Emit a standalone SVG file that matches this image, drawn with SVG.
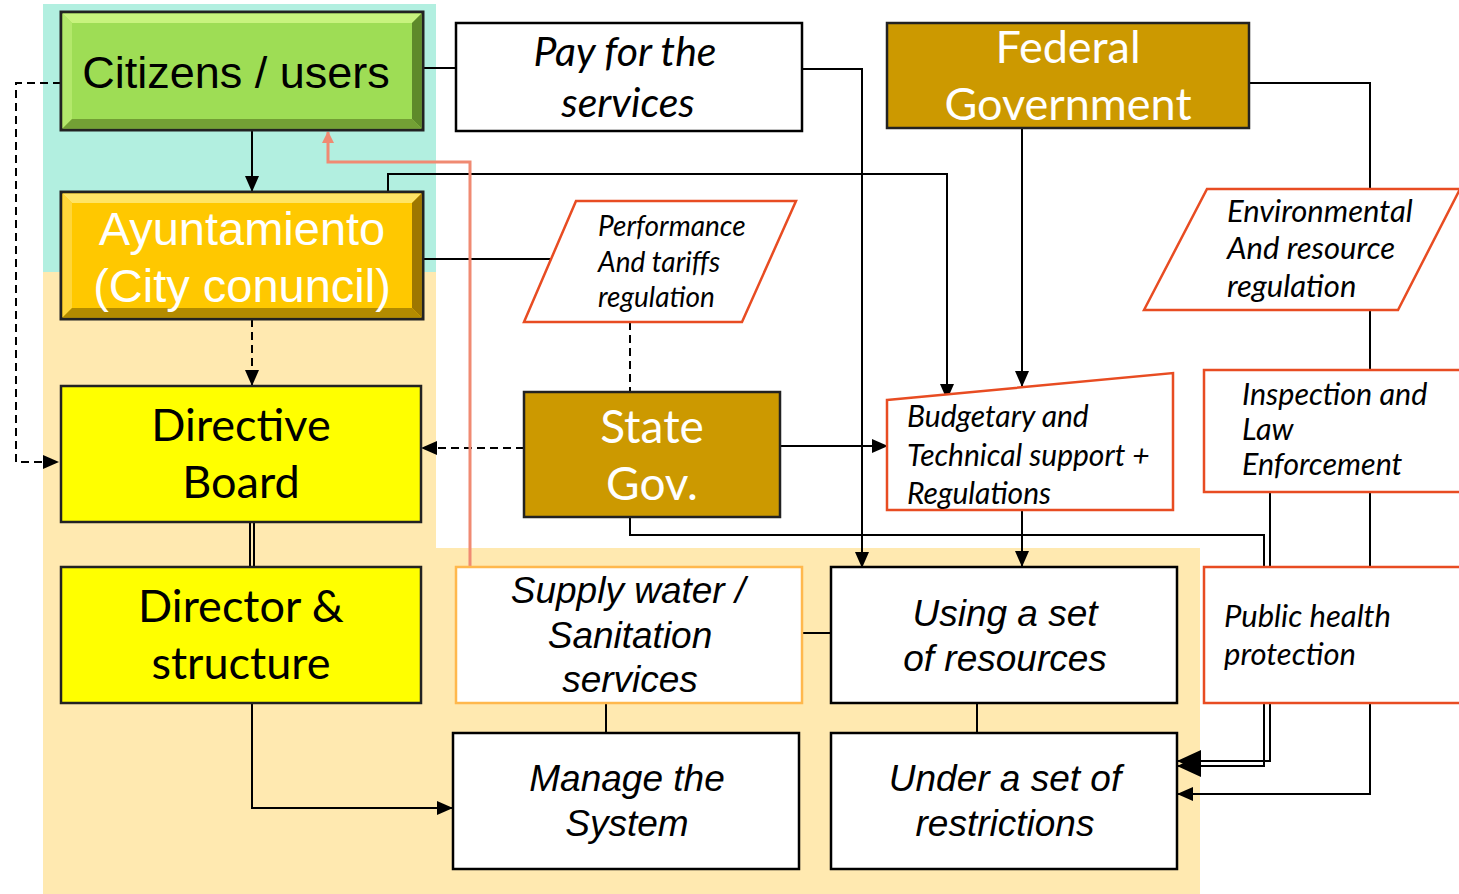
<svg xmlns="http://www.w3.org/2000/svg" width="1459" height="894" viewBox="0 0 1459 894">
<style>
.ln{fill:none;stroke:#000;stroke-width:2}
.ds{fill:none;stroke:#000;stroke-width:2;stroke-dasharray:8 5}
.box{fill:#fff;stroke:#000;stroke-width:2.5}
.red{fill:#fff;stroke:#E84C22;stroke-width:2.5}
.gold{fill:#CC9900;stroke:#222;stroke-width:2.5}
.yel{fill:#FFFF00;stroke:#222;stroke-width:2.5}
.ar{font-family:"Liberation Sans",Arial,sans-serif;text-anchor:middle}
.it{font-family:Lato,"Open Sans",sans-serif;font-style:italic}
.lt{font-family:Lato,"Open Sans",sans-serif;text-anchor:middle}
</style>
<defs>
<marker id="ah" markerUnits="userSpaceOnUse" markerWidth="16" markerHeight="14" refX="15" refY="7" orient="auto"><path d="M0,0 L16,7 L0,14 Z" fill="#000"/></marker>
<marker id="ahb" markerUnits="userSpaceOnUse" markerWidth="24" markerHeight="22" refX="23" refY="11" orient="auto"><path d="M0,0 L24,11 L0,22 Z" fill="#000"/></marker>
<marker id="ahs" markerUnits="userSpaceOnUse" markerWidth="12" markerHeight="12" refX="11" refY="6" orient="auto"><path d="M0,0 L12,6 L0,12 Z" fill="#F08A72"/></marker>
</defs>
<rect width="1459" height="894" fill="#fff"/>
<g id="backgrounds">
<rect x="43" y="4" width="393" height="268" fill="#B2EFE0"/>
<rect x="43" y="272" width="393" height="622" fill="#FFE9B0"/>
<rect x="436" y="548" width="764" height="346" fill="#FFE9B0"/>
</g>
<g id="connectors">
<path class="ln" d="M423,68 H456"/>
<path class="ln" d="M802,69 H862 V567" marker-end="url(#ah)"/>
<path class="ln" d="M252,130 V191" marker-end="url(#ah)"/>
<path class="ln" d="M388,192 V174 H947 V399" marker-end="url(#ah)"/>
<path class="ln" d="M1022,128 V386" marker-end="url(#ah)"/>
<path class="ln" d="M1249,83 H1370 V189"/>
<path class="ln" d="M1370,310 V370"/>
<path class="ln" d="M1370,492 V567"/>
<path class="ln" d="M1370,703 V794 H1178" marker-end="url(#ah)"/>
<path class="ln" d="M418,259 H553"/>
<path class="ds" d="M630,322 V392"/>
<path class="ds" d="M524,448 H422" marker-end="url(#ah)"/>
<path class="ln" d="M780,446 H887" marker-end="url(#ah)"/>
<path class="ln" d="M630,517 V535 H1264 V766 H1178" marker-end="url(#ahb)"/>
<path class="ln" d="M1270,492 V761 H1178" marker-end="url(#ahb)"/>
<path class="ln" d="M1022,510 V566" marker-end="url(#ah)"/>
<path class="ln" d="M802,633 H831"/>
<path class="ln" d="M606,703 V733"/>
<path class="ln" d="M977,703 V733"/>
<path class="ln" d="M250,522 V567 M254,522 V567"/>
<path class="ln" d="M252,703 V808 H452" marker-end="url(#ah)"/>
<path class="ds" d="M61,83 H16 V462 H58" marker-end="url(#ah)"/>
<path class="ds" d="M252,319 V385" marker-end="url(#ah)"/>
<path fill="none" stroke="#F08A72" stroke-width="3" d="M470,567 V162 H328 V132" marker-end="url(#ahs)"/>
</g>
<g id="citizens">
<rect x="61" y="12" width="362" height="118" fill="#9EDD55" stroke="#222" stroke-width="3"/>
<polygon points="62.5,13.5 421.5,13.5 412,23 72,23" fill="#C8F37E"/>
<polygon points="62.5,13.5 72,23 72,119 62.5,128.5" fill="#B3E86B"/>
<polygon points="421.5,13.5 421.5,128.5 412,119 412,23" fill="#5E8A2A"/>
<polygon points="62.5,128.5 72,119 412,119 421.5,128.5" fill="#73A035"/>
<text class="ar" x="236" y="88" font-size="45" fill="#000">Citizens / users</text>
</g>
<g id="pay">
<rect class="box" x="456" y="23" width="346" height="108"/>
<text class="it" x="625" y="66" font-size="41" text-anchor="middle">Pay for the</text>
<text class="it" x="628" y="117" font-size="41" text-anchor="middle">services</text>
</g>
<g id="federal">
<rect class="gold" x="887" y="23" width="362" height="105"/>
<text class="lt" x="1068" y="63" font-size="45" fill="#fff">Federal</text>
<text class="lt" x="1068" y="120" font-size="45" fill="#fff">Government</text>
</g>
<g id="ayuntamiento">
<rect x="61" y="192" width="362" height="127" fill="#FFC800" stroke="#222" stroke-width="3"/>
<polygon points="62.5,193.5 421.5,193.5 412,203 72,203" fill="#FFE466"/>
<polygon points="62.5,193.5 72,203 72,308 62.5,317.5" fill="#FFD63A"/>
<polygon points="421.5,193.5 421.5,317.5 412,308 412,203" fill="#9E7700"/>
<polygon points="62.5,317.5 72,308 412,308 421.5,317.5" fill="#B38B00"/>
<text class="ar" x="242" y="245" font-size="47" fill="#fff">Ayuntamiento</text>
<text class="ar" x="242" y="302" font-size="47" fill="#fff">(City conuncil)</text>
</g>
<g id="performance">
<polygon class="red" points="524,322 576,201 796,201 742,322"/>
<text class="it" x="598" y="236" font-size="28">Performance</text>
<text class="it" x="598" y="272" font-size="28">And tariffs</text>
<text class="it" x="598" y="307" font-size="28">regulation</text>
</g>
<g id="environmental">
<polygon class="red" points="1144,310 1207,189 1460,189 1398,310"/>
<text class="it" x="1227" y="222" font-size="31">Environmental</text>
<text class="it" x="1227" y="259" font-size="31">And resource</text>
<text class="it" x="1227" y="297" font-size="31">regulation</text>
</g>
<g id="directive">
<rect class="yel" x="61" y="386" width="360" height="136"/>
<text class="lt" x="241" y="441" font-size="45">Directive</text>
<text class="lt" x="241" y="498" font-size="45">Board</text>
</g>
<g id="state">
<rect class="gold" x="524" y="392" width="256" height="125"/>
<text class="lt" x="652" y="443" font-size="46" fill="#fff">State</text>
<text class="lt" x="652" y="500" font-size="46" fill="#fff">Gov.</text>
</g>
<g id="budgetary">
<polygon class="red" points="887,400 1173,373 1173,510 887,510"/>
<text class="it" x="907" y="427" font-size="30">Budgetary and</text>
<text class="it" x="907" y="466" font-size="30">Technical support +</text>
<text class="it" x="907" y="504" font-size="30">Regulations</text>
</g>
<g id="inspection">
<rect class="red" x="1204" y="370" width="260" height="122"/>
<text class="it" x="1242" y="405" font-size="30.5">Inspection and</text>
<text class="it" x="1242" y="440" font-size="30.5">Law</text>
<text class="it" x="1242" y="475" font-size="30.5">Enforcement</text>
</g>
<g id="director">
<rect class="yel" x="61" y="567" width="360" height="136"/>
<text class="lt" x="241" y="622" font-size="45">Director &amp;</text>
<text class="lt" x="241" y="679" font-size="45">structure</text>
</g>
<g id="supply">
<rect x="456" y="567" width="346" height="136" fill="#fff" stroke="#FFB84D" stroke-width="2.5"/>
<text class="ar" x="628" y="603" font-size="37" font-style="italic">Supply water /</text>
<text class="ar" x="630" y="648" font-size="37" font-style="italic">Sanitation</text>
<text class="ar" x="630" y="692" font-size="37" font-style="italic">services</text>
</g>
<g id="using">
<rect class="box" x="831" y="567" width="346" height="136"/>
<text class="ar" x="1005" y="626" font-size="37" font-style="italic">Using a set</text>
<text class="ar" x="1005" y="671" font-size="37" font-style="italic">of resources</text>
</g>
<g id="publichealth">
<rect class="red" x="1204" y="567" width="260" height="136"/>
<text class="it" x="1224" y="627" font-size="31">Public health</text>
<text class="it" x="1224" y="665" font-size="31">protection</text>
</g>
<g id="manage">
<rect class="box" x="453" y="733" width="346" height="136"/>
<text class="ar" x="627" y="791" font-size="37" font-style="italic">Manage the</text>
<text class="ar" x="627" y="836" font-size="37" font-style="italic">System</text>
</g>
<g id="under">
<rect class="box" x="831" y="733" width="346" height="136"/>
<text class="ar" x="1005" y="791" font-size="37" font-style="italic">Under a set of</text>
<text class="ar" x="1005" y="836" font-size="37" font-style="italic">restrictions</text>
</g>
</svg>
